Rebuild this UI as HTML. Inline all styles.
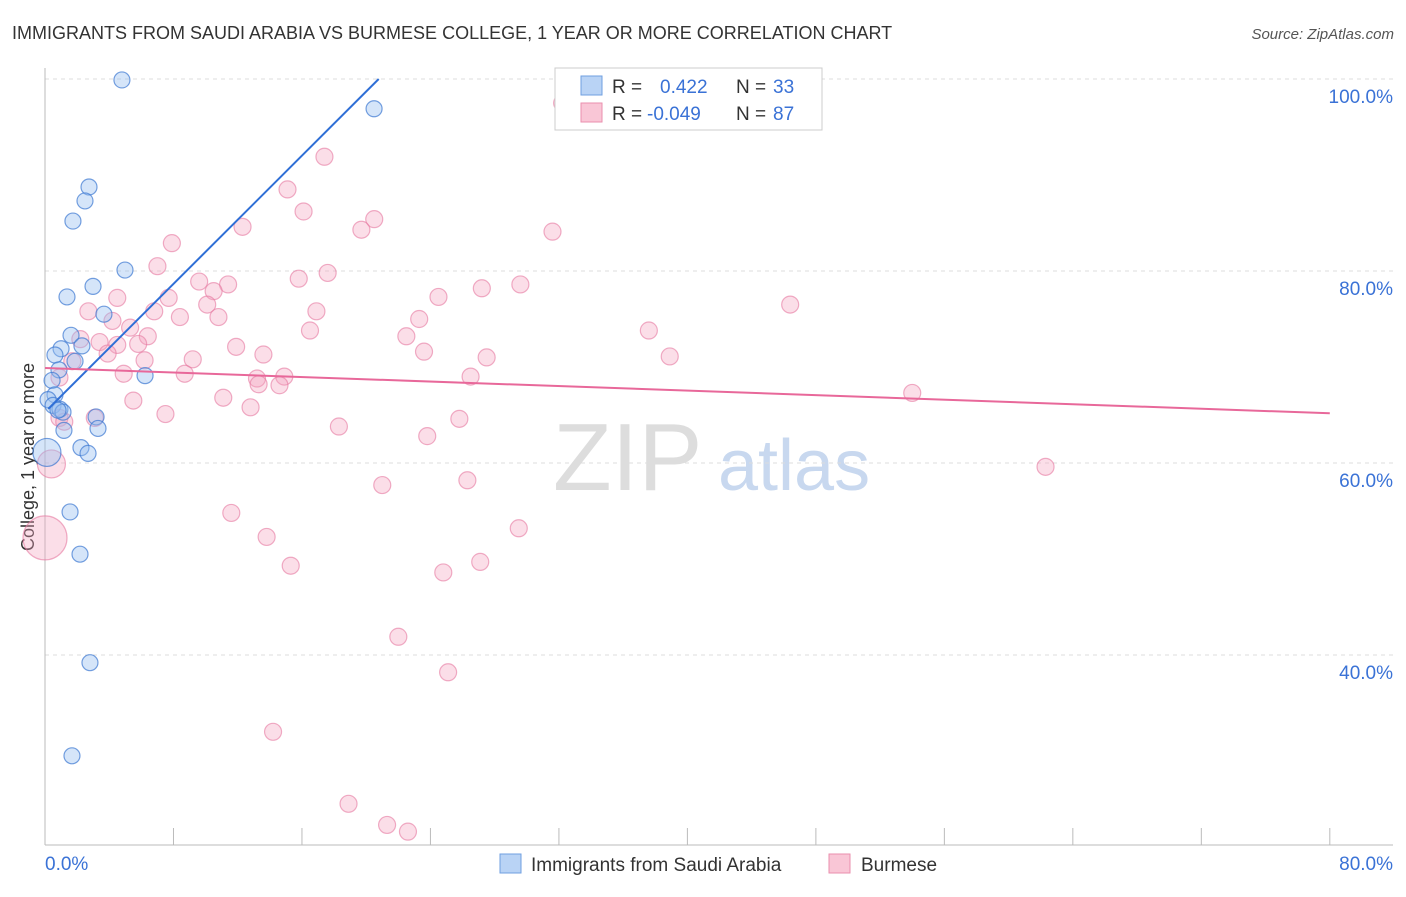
<!DOCTYPE html>
<html><head><meta charset="utf-8"><style>
body{margin:0;background:#fff;font-family:"Liberation Sans",sans-serif;}
svg text{font-family:"Liberation Sans",sans-serif;}
</style></head><body>
<svg id="c" width="1406" height="892" xmlns="http://www.w3.org/2000/svg">
<text x="12" y="39" font-size="18" fill="#333">IMMIGRANTS FROM SAUDI ARABIA VS BURMESE COLLEGE, 1 YEAR OR MORE CORRELATION CHART</text>
<text x="1394" y="39" font-size="15" fill="#555" font-style="italic" text-anchor="end">Source: ZipAtlas.com</text>
<text x="34" y="457" font-size="18" fill="#333" text-anchor="middle" transform="rotate(-90 34 457)">College, 1 year or more</text>
<g><text x="553" y="490" font-size="96" fill="#ddd" font-family="Liberation Serif">ZIP</text><text x="718" y="490" font-size="72" fill="#c8d8ef">atlas</text></g>
<g id="grid"></g><g id="pts"></g><g id="lines"></g>
<g>
<rect x="555" y="68" width="267" height="62" fill="#fff" stroke="#ccc"/>
<rect x="581" y="76" width="21" height="19" fill="#b9d3f5" stroke="#6f9fe0"/>
<rect x="581" y="103" width="21" height="19" fill="#f9c6d6" stroke="#ea8fae"/>
<text x="612" y="93" font-size="19" fill="#333">R = </text><text x="660" y="93" font-size="19" fill="#3a72d6">0.422</text>
<text x="736" y="93" font-size="19" fill="#333">N = </text><text x="773" y="93" font-size="19" fill="#3a72d6">33</text>
<text x="612" y="120" font-size="19" fill="#333">R = </text><text x="647" y="120" font-size="19" fill="#3a72d6">-0.049</text>
<text x="736" y="120" font-size="19" fill="#333">N = </text><text x="773" y="120" font-size="19" fill="#3a72d6">87</text>
</g>
<g>
<rect x="500" y="854" width="21" height="19" fill="#b9d3f5" stroke="#6f9fe0"/>
<text x="531" y="871" font-size="19" fill="#333">Immigrants from Saudi Arabia</text>
<rect x="829" y="854" width="21" height="19" fill="#f9c6d6" stroke="#ea8fae"/>
<text x="861" y="871" font-size="19" fill="#333">Burmese</text>
</g>
</svg>
<script>
const yTicks=[100,80,60,40];
const yTickLabels=["100.0%","80.0%","60.0%","40.0%"];
const xTickLabels=["0.0%","80.0%"];
const saudiX=[4.79,20.49,2.74,2.49,1.74,4.98,2.99,1.37,3.67,1.62,1.00,2.30,0.62,1.87,0.87,6.23,0.44,0.62,0.19,0.50,0.93,1.12,3.18,3.30,1.18,2.24,2.68,0.12,1.56,2.18,2.80,1.68,0.81];
const saudiY=[99.9,96.9,88.75,87.3,85.2,80.1,78.4,77.3,75.5,73.3,71.9,72.2,71.25,70.6,69.7,69.1,68.6,67.1,66.6,66.0,65.6,65.3,64.8,63.6,63.4,61.6,61.0,61.1,54.9,50.5,39.2,29.5,65.5];
const saudiR=[8,8,8,8,8,8,8,8,8,8,8,8,8,8,8,8,8,8,8,8,8,8,8,8,8,8,8,14,8,8,8,8,8];
const burX=[32.2,17.4,15.1,16.1,20.5,19.7,31.6,12.3,7.9,7.0,17.6,15.8,29.6,27.2,24.5,9.6,11.4,10.5,10.1,7.7,4.5,2.7,6.8,8.4,10.8,16.9,23.3,46.4,37.6,16.5,22.5,4.2,5.3,6.4,2.2,5.8,3.4,4.5,11.9,3.9,13.6,23.6,27.5,38.9,1.7,6.2,9.2,4.9,8.7,26.5,13.2,13.3,14.9,14.6,0.9,11.1,5.5,12.8,7.5,54.0,0.9,1.2,3.1,25.8,18.3,23.8,0.4,62.3,21.0,26.3,11.6,29.5,13.8,0,15.3,27.1,24.8,22.0,25.1,14.2,18.9,21.3,22.6];
const burY=[97.5,91.9,88.5,86.2,85.4,84.3,84.1,84.6,82.9,80.5,79.8,79.2,78.6,78.2,77.3,78.9,78.6,77.9,76.5,77.2,77.2,75.8,75.8,75.2,75.2,75.8,75.0,76.5,73.8,73.8,73.2,74.8,74.1,73.2,72.9,72.4,72.6,72.3,72.1,71.4,71.3,71.6,71.0,71.1,70.6,70.7,70.8,69.3,69.3,69.0,68.8,68.2,69.0,68.1,68.9,66.8,66.5,65.8,65.1,67.3,64.7,64.3,64.7,64.6,63.8,62.8,59.9,59.6,57.7,58.2,54.8,53.2,52.3,52.2,49.3,49.7,48.6,41.9,38.2,32.0,24.5,22.3,21.6];
const burR=burX.map((v,i)=>i===66?14:(i===73?22:8.5));
const saudiTrend=[65.3,1.67];
const burTrend=[69.9,-0.059];
const X=v=>45+v*16.06, Y=v=>79+(100-v)*9.6;
const NS="http://www.w3.org/2000/svg";
function mk(p,t,a){const e=document.createElementNS(NS,t);for(const k in a)e.setAttribute(k,a[k]);p.appendChild(e);return e;}
const g=document.getElementById('grid');
yTicks.forEach((t,i)=>{
 const l=mk(g,'line',{x1:45,x2:1393,y1:Y(t),y2:Y(t),stroke:'#ddd','stroke-dasharray':'4,4'});
 
 
 const tx=mk(g,'text',{x:1393,y:Y(t)+24,'font-size':19,fill:'#3a72d6','text-anchor':'end'});tx.textContent=yTickLabels[i];
 
 
});
const ax=mk(g,'line',{x1:45,x2:45,y1:68,y2:845,stroke:'#bbb'});


const bx=mk(g,'line',{x1:45,x2:1393,y1:845,y2:845,stroke:'#bbb'});


for(let i=0;i<=10;i++){const t=mk(g,'line',{x1:X(i*8),x2:X(i*8),y1:828,y2:845,stroke:'#bbb'});
 
 }
[[0,'start',45],[80,'end',1393]].forEach((d,i)=>{const t=mk(g,'text',{x:d[2],y:870,'font-size':19,fill:'#3a72d6','text-anchor':d[1]});t.textContent=xTickLabels[i];
 
 });
const P=document.getElementById('pts');
burX.forEach((x,i)=>{const c=mk(P,'circle',{cx:X(x),cy:Y(burY[i]),r:burR[i],fill:'rgba(244,160,190,0.35)',stroke:'rgba(230,120,160,0.6)','stroke-width':1.2});
 
 });
saudiX.forEach((x,i)=>{const c=mk(P,'circle',{cx:X(x),cy:Y(saudiY[i]),r:saudiR[i],fill:'rgba(150,190,240,0.4)',stroke:'rgba(60,120,210,0.7)','stroke-width':1.2});
 
 });
const L=document.getElementById('lines');
const xe=(100-saudiTrend[0])/saudiTrend[1];
const l1=mk(L,'line',{x1:X(0.2),y1:Y(saudiTrend[0]+saudiTrend[1]*0.2),x2:X(xe),y2:Y(100),stroke:'#2f6fd6','stroke-width':2});


const l2=mk(L,'line',{x1:X(0),y1:Y(burTrend[0]),x2:X(80),y2:Y(burTrend[0]+burTrend[1]*80),stroke:'#e8689a','stroke-width':2});


</script>
</body></html>
